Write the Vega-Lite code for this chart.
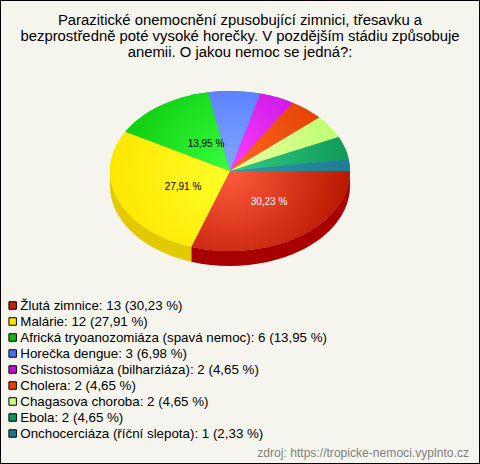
{
"$schema":"https://vega.github.io/schema/vega-lite/v6.json",
"width":480,"height":464,"padding":0,"autosize":{"type":"none"},
"background":"#f5f5ee",
"view":{"stroke":"#000","strokeWidth":2,"fill":"#f5f5ee"},
"config":{"view":{"stroke":"#000","strokeWidth":2},"font":"Liberation Sans"},
"title":{"text":["Parazitické onemocnění zpusobující zimnici, třesavku a","bezprostředně poté vysoké horečky. V pozdějším stádiu způsobuje","anemii. O jakou nemoc se jedná?:"],"anchor":"middle","frame":"group","fontSize":14.87,"fontWeight":"normal","lineHeight":16,"color":"#000","baseline":"top","offset":0,"dy":60},
"datasets":{"nemoci":[
{"poradi":1,"nemoc":"Žlutá zimnice: 13 (30,23 %)","pocet":13,"procenta":"30,23 %"},
{"poradi":2,"nemoc":"Malárie: 12 (27,91 %)","pocet":12,"procenta":"27,91 %"},
{"poradi":3,"nemoc":"Africká tryoanozomiáza (spavá nemoc): 6 (13,95 %)","pocet":6,"procenta":"13,95 %"},
{"poradi":4,"nemoc":"Horečka dengue: 3 (6,98 %)","pocet":3,"procenta":"6,98 %"},
{"poradi":5,"nemoc":"Schistosomiáza (bilharziáza): 2 (4,65 %)","pocet":2,"procenta":"4,65 %"},
{"poradi":6,"nemoc":"Cholera: 2 (4,65 %)","pocet":2,"procenta":"4,65 %"},
{"poradi":7,"nemoc":"Chagasova choroba: 2 (4,65 %)","pocet":2,"procenta":"4,65 %"},
{"poradi":8,"nemoc":"Ebola: 2 (4,65 %)","pocet":2,"procenta":"4,65 %"},
{"poradi":9,"nemoc":"Onchocerciáza (říční slepota): 1 (2,33 %)","pocet":1,"procenta":"2,33 %"}
]},
"data":{"name":"nemoci"},
"resolve":{"scale":{"shape":"independent"}},
"layer":[
{"transform":[{"filter":"datum.poradi <= 2"}],
 "mark":{"type":"point","filled":true,"opacity":1,"size":4,"xOffset":-10,"yOffset":-61},
 "encoding":{
  "shape":{"field":"nemoc","legend":null,"sort":null,"scale":{"domain":["Žlutá zimnice: 13 (30,23 %)","Malárie: 12 (27,91 %)"],"range":["M120,0 A120,80 0 0 1 -38.75,75.71 L-38.75,90.71 A120,80 0 0 0 120,15 Z","M-38.75,75.71 A120,80 0 0 1 -120,0 L-120,15 A120,80 0 0 0 -38.75,90.71 Z"]}},
  "fill":{"condition":{"test":"datum.poradi === 1","value":"#a80000"},"value":"#e3c900"}
 }},
{"mark":{"type":"point","filled":true,"opacity":1,"size":4,"xOffset":-10,"yOffset":-61},
 "encoding":{
  "shape":{"field":"nemoc","legend":null,"sort":null,"scale":{"domain":{"data":"nemoci","field":"nemoc"},"range":[
   "M0,0 L120,0 A120,80 0 0 1 -38.75,75.71 Z",
   "M0,0 L-38.75,75.71 A120,80 0 0 1 -104.65,-39.15 Z",
   "M0,0 L-104.65,-39.15 A120,80 0 0 1 -21.79,-78.67 Z",
   "M0,0 L-21.79,-78.67 A120,80 0 0 1 30.36,-77.4 Z",
   "M0,0 L30.36,-77.4 A120,80 0 0 1 62.51,-68.29 Z",
   "M0,0 L62.51,-68.29 A120,80 0 0 1 89.39,-53.38 Z",
   "M0,0 L89.39,-53.38 A120,80 0 0 1 108.64,-33.97 Z",
   "M0,0 L108.64,-33.97 A120,80 0 0 1 118.72,-11.65 Z",
   "M0,0 L118.72,-11.65 A120,80 0 0 1 120,0 Z"]}},
  "color":{"field":"nemoc","sort":null,"scale":{"range":["#c42200","#ffe600","#0fbf0f","#4a70ff","#c010d8","#e84000","#c8ff80","#109858","#207890"]},
   "legend":{"orient":"none","legendX":6,"legendY":298,"title":null,"padding":0,"symbolType":"square","symbolSize":56,"symbolStrokeColor":"#000","symbolStrokeWidth":1,"symbolOpacity":1,"labelFontSize":13.33,"labelColor":"#000","labelLimit":0,"labelOffset":1,"rowPadding":1,"clipHeight":15,"values":null}}
 }},
{"mark":{"type":"point","filled":true,"opacity":1,"size":4,"xOffset":-10,"yOffset":-61},
 "encoding":{
  "shape":{"field":"nemoc","legend":null,"sort":null,"scale":{"domain":{"data":"nemoci","field":"nemoc"},"range":[
   "M0,0 L120,0 A120,80 0 0 1 -38.75,75.71 Z",
   "M0,0 L-38.75,75.71 A120,80 0 0 1 -104.65,-39.15 Z",
   "M0,0 L-104.65,-39.15 A120,80 0 0 1 -21.79,-78.67 Z",
   "M0,0 L-21.79,-78.67 A120,80 0 0 1 30.36,-77.4 Z",
   "M0,0 L30.36,-77.4 A120,80 0 0 1 62.51,-68.29 Z",
   "M0,0 L62.51,-68.29 A120,80 0 0 1 89.39,-53.38 Z",
   "M0,0 L89.39,-53.38 A120,80 0 0 1 108.64,-33.97 Z",
   "M0,0 L108.64,-33.97 A120,80 0 0 1 118.72,-11.65 Z",
   "M0,0 L118.72,-11.65 A120,80 0 0 1 120,0 Z"]}},
  "fill":{"condition":[
   {"test":"datum.poradi === 1","value":{"gradient":"radial","x1":0.244,"y1":0.248,"r1":0,"x2":0.244,"y2":0.248,"r2":0.756,"stops":[{"offset":0,"color":"#ff5a3c"},{"offset":1,"color":"#b81800"}]}},
   {"test":"datum.poradi === 2","value":{"gradient":"radial","x1":1,"y1":0.348,"r1":0,"x2":1,"y2":0.348,"r2":1,"stops":[{"offset":0,"color":"#ffff2a"},{"offset":1,"color":"#ffe600"}]}},
   {"test":"datum.poradi === 3","value":{"gradient":"radial","x1":1,"y1":0.876,"r1":0,"x2":1,"y2":0.876,"r2":1.147,"stops":[{"offset":0,"color":"#38ff40"},{"offset":1,"color":"#0cc80c"}]}},
   {"test":"datum.poradi === 4","value":{"gradient":"radial","x1":0.446,"y1":1,"r1":0,"x2":0.446,"y2":1,"r2":1.5,"stops":[{"offset":0,"color":"#82a8ff"},{"offset":1,"color":"#4a70ff"}]}},
   {"test":"datum.poradi === 5","value":{"gradient":"radial","x1":0.096,"y1":1,"r1":0,"x2":0.096,"y2":1,"r2":1.55,"stops":[{"offset":0,"color":"#ff40ff"},{"offset":1,"color":"#c010e0"}]}},
   {"test":"datum.poradi === 6","value":{"gradient":"radial","x1":0,"y1":0.882,"r1":0,"x2":0,"y2":0.882,"r2":1.342,"stops":[{"offset":0,"color":"#ff6a20"},{"offset":1,"color":"#e03c00"}]}},
   {"test":"datum.poradi === 7","value":{"gradient":"radial","x1":0,"y1":0.746,"r1":0,"x2":0,"y2":0.746,"r2":1.105,"stops":[{"offset":0,"color":"#e8ffa0"},{"offset":1,"color":"#bcff70"}]}},
   {"test":"datum.poradi === 8","value":{"gradient":"radial","x1":0,"y1":0.643,"r1":0,"x2":0,"y2":0.643,"r2":1.011,"stops":[{"offset":0,"color":"#34cc88"},{"offset":1,"color":"#0f9a58"}]}},
   {"test":"datum.poradi === 9","value":{"gradient":"radial","x1":0,"y1":0.549,"r1":0,"x2":0,"y2":0.549,"r2":1,"stops":[{"offset":0,"color":"#3094a8"},{"offset":1,"color":"#1f7c92"}]}}
  ],"value":"#000"}
 }},
{"transform":[{"filter":"datum.poradi === 1"}],"mark":{"type":"text","font":"Liberation Sans","fontSize":10,"color":"#fff","dx":29,"dy":-30},"encoding":{"text":{"field":"procenta"}}},
{"transform":[{"filter":"datum.poradi === 2"}],"mark":{"type":"text","font":"Liberation Sans","fontSize":10,"color":"#000","dx":-57,"dy":-45},"encoding":{"text":{"field":"procenta"}}},
{"transform":[{"filter":"datum.poradi === 3"}],"mark":{"type":"text","font":"Liberation Sans","fontSize":10,"color":"#000","dx":-34,"dy":-88},"encoding":{"text":{"field":"procenta"}}},
{"data":{"values":[{"zdroj":"zdroj: https://tropicke-nemoci.vyplnto.cz"}]},"mark":{"type":"text","font":"Liberation Sans","fontSize":12.1,"color":"#808080","align":"right","dx":229,"dy":221},"encoding":{"text":{"field":"zdroj"}}}
]
}
